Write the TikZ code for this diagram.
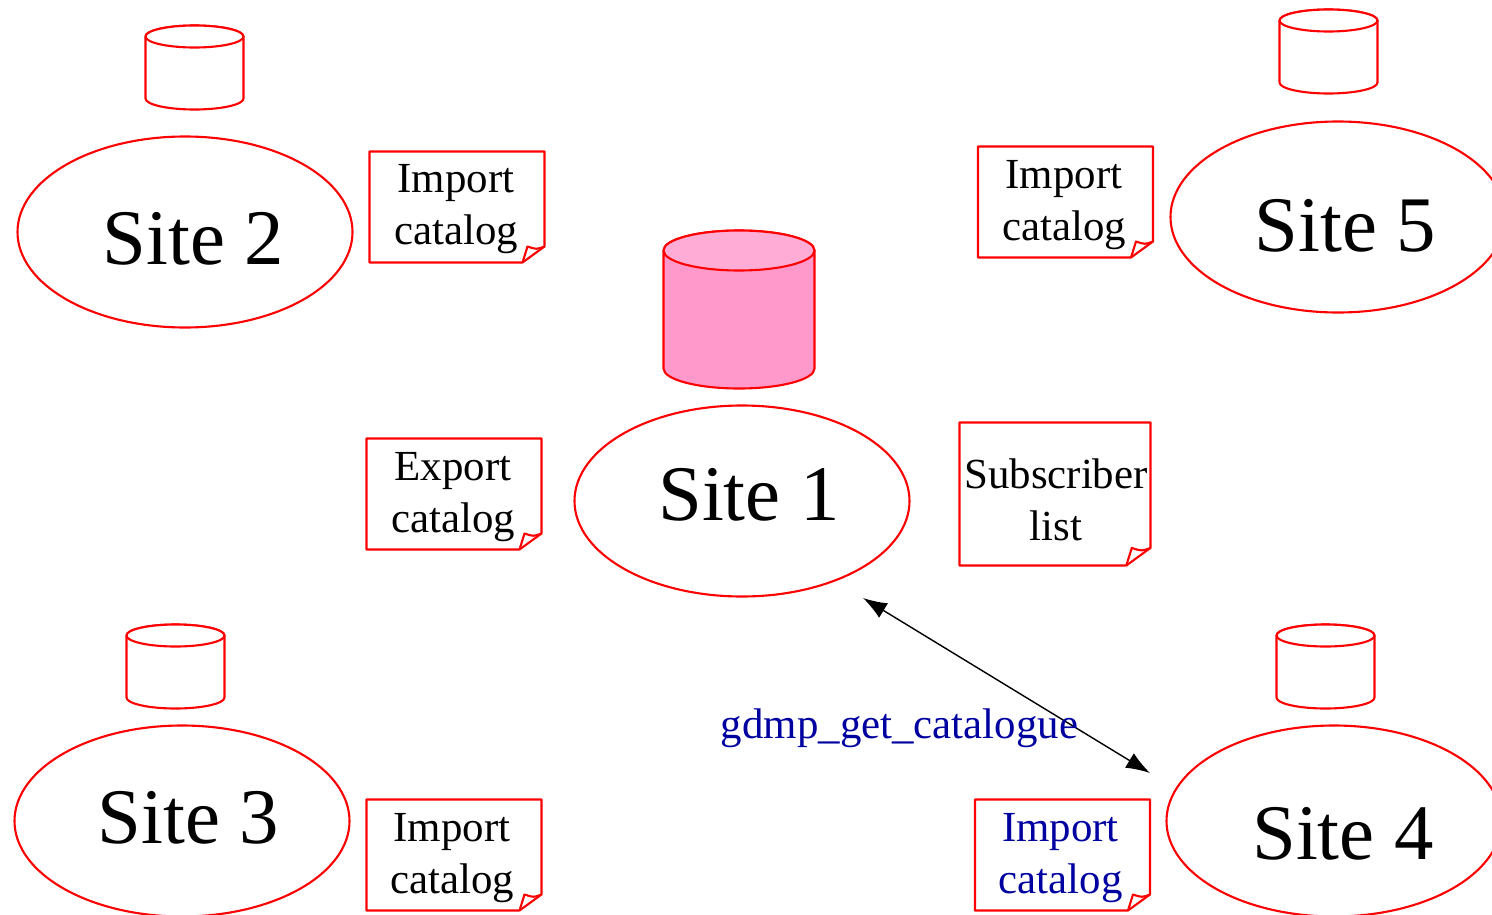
\documentclass[tikz,border=0pt]{standalone}
\usepackage{fontspec}
\setmainfont{Liberation Serif}
\usetikzlibrary{shapes.geometric, arrows.meta}
\tikzset{
  sitenode/.style={ellipse, draw=red, line width=0.6pt, inner sep=0pt, minimum width=3.35cm, minimum height=1.91cm},
  sitetext/.style={anchor=base, font=\fontsize{22.4}{26}\selectfont},
  drumnode/.style={inner sep=0pt, outer sep=0pt, minimum width=0.98cm, minimum height=0.84cm},
  bigdrumnode/.style={inner sep=0pt, outer sep=0pt, minimum width=1.51cm, minimum height=1.58cm},
  drumline/.style={draw=red, line width=0.6pt, line join=round},
  notenode/.style={inner sep=0pt, outer sep=0pt, minimum width=1.75cm, minimum height=1.11cm},
  notetext/.style={align=center, font=\fontsize{12.2}{14.8}\selectfont},
  noteline/.style={draw=red, line width=0.6pt, line join=round},
  getlink/.style={{Latex[length=0.24cm,width=0.17cm]}-{Latex[length=0.24cm,width=0.17cm]}, line width=0.4pt}
}
\definecolor{drumbody}{RGB}{255,153,204}
\definecolor{drumtop}{RGB}{255,173,214}
\definecolor{linkblue}{RGB}{0,0,160}
\newcommand{\notefold}[2][1]{
  \draw[noteline] (#2.south west) -- (#2.north west) -- (#2.north east) -- ([yshift=#1*0.16cm]#2.south east) -- ([xshift=-#1*0.22cm]#2.south east) -- cycle;
  \draw[noteline] ([yshift=#1*0.16cm]#2.south east) .. controls ([shift={(-#1*0.08cm,#1*0.13cm)}]#2.south east) .. ([shift={(-#1*0.17cm,#1*0.16cm)}]#2.south east) -- ([xshift=-#1*0.22cm]#2.south east);
}
\newcommand{\drumlines}[5]{
  \draw[drumline, fill=#4] ([yshift=-#3]#1.north west) -- ([yshift=#3]#1.south west) arc[start angle=180, end angle=360, x radius=#2, y radius=#3] -- ([yshift=-#3]#1.north east) arc[start angle=0, end angle=180, x radius=#2, y radius=#3] -- cycle;
  \draw[drumline, fill=#5] ([yshift=-#3]#1.north) ellipse[x radius=#2, y radius=#3];
}
\begin{document}
\begin{tikzpicture}
    \useasboundingbox (0, 0) rectangle (14.92, 9.14);

    \node[sitenode] (site1) at (7.42, 4.13) {};
    \node[sitenode] (site2) at (1.85, 6.82) {};
    \node[sitenode] (site3) at (1.82, 0.93) {};
    \node[sitenode] (site4) at (13.34, 0.93) {};
    \node[sitenode] (site5) at (13.38, 6.97) {};

    \node[sitetext] (label1) at (7.49, 3.935) {Site 1};
    \node[sitetext] (label2) at (1.935, 6.495) {Site 2};
    \node[sitetext] (label3) at (1.885, 0.705) {Site 3};
    \node[sitetext] (label4) at (13.43, 0.545) {Site 4};
    \node[sitetext] (label5) at (13.455, 6.625) {Site 5};

    \node[bigdrumnode] (drum1) at (7.39, 6.045) {};
    \node[drumnode] (drum2) at (1.945, 8.465) {};
    \node[drumnode] (drum3) at (1.755, 2.475) {};
    \node[drumnode] (drum4) at (13.255, 2.475) {};
    \node[drumnode] (drum5) at (13.285, 8.625) {};

    \drumlines{drum1}{0.755cm}{0.2cm}{drumbody}{drumtop}
    \drumlines{drum2}{0.49cm}{0.11cm}{white}{white}
    \drumlines{drum3}{0.49cm}{0.11cm}{white}{white}
    \drumlines{drum4}{0.49cm}{0.11cm}{white}{white}
    \drumlines{drum5}{0.49cm}{0.11cm}{white}{white}

    \node[notenode] (import2) at (4.57, 7.07) {};
    \node[notenode] (import5) at (10.655, 7.12) {};
    \node[notenode] (export1) at (4.54, 4.2) {};
    \node[notenode] (import3) at (4.54, 0.59) {};
    \node[notenode] (import4) at (10.625, 0.59) {};
    \node[notenode, minimum width=1.91cm, minimum height=1.43cm] (subscribers) at (10.55, 4.2) {};

    \notefold{import2}
    \notefold{import5}
    \notefold{export1}
    \notefold{import3}
    \notefold{import4}
    \notefold[1.1]{subscribers}

    \node[notetext] (import2text) at (4.56, 7.045) {Import\\catalog};
    \node[notetext] (import5text) at (10.64, 7.09) {Import\\catalog};
    \node[notetext] (export1text) at (4.53, 4.17) {Export\\catalog};
    \node[notetext] (import3text) at (4.52, 0.56) {Import\\catalog};
    \node[notetext, text=linkblue] (import4text) at (10.605, 0.56) {Import\\catalog};
    \node[notetext] (subscriberstext) at (10.56, 4.14) {Subscriber\\list};

    \coordinate (linkstart) at (8.63, 3.16);
    \coordinate (linkend) at (11.5, 1.41);
    \draw[getlink] (linkstart) -- (linkend);
    \node[anchor=base, text=linkblue, font=\fontsize{12.2}{14.8}\selectfont] (getcat) at (8.995, 1.76) {gdmp\_get\_catalogue};
\end{tikzpicture}
\end{document}
